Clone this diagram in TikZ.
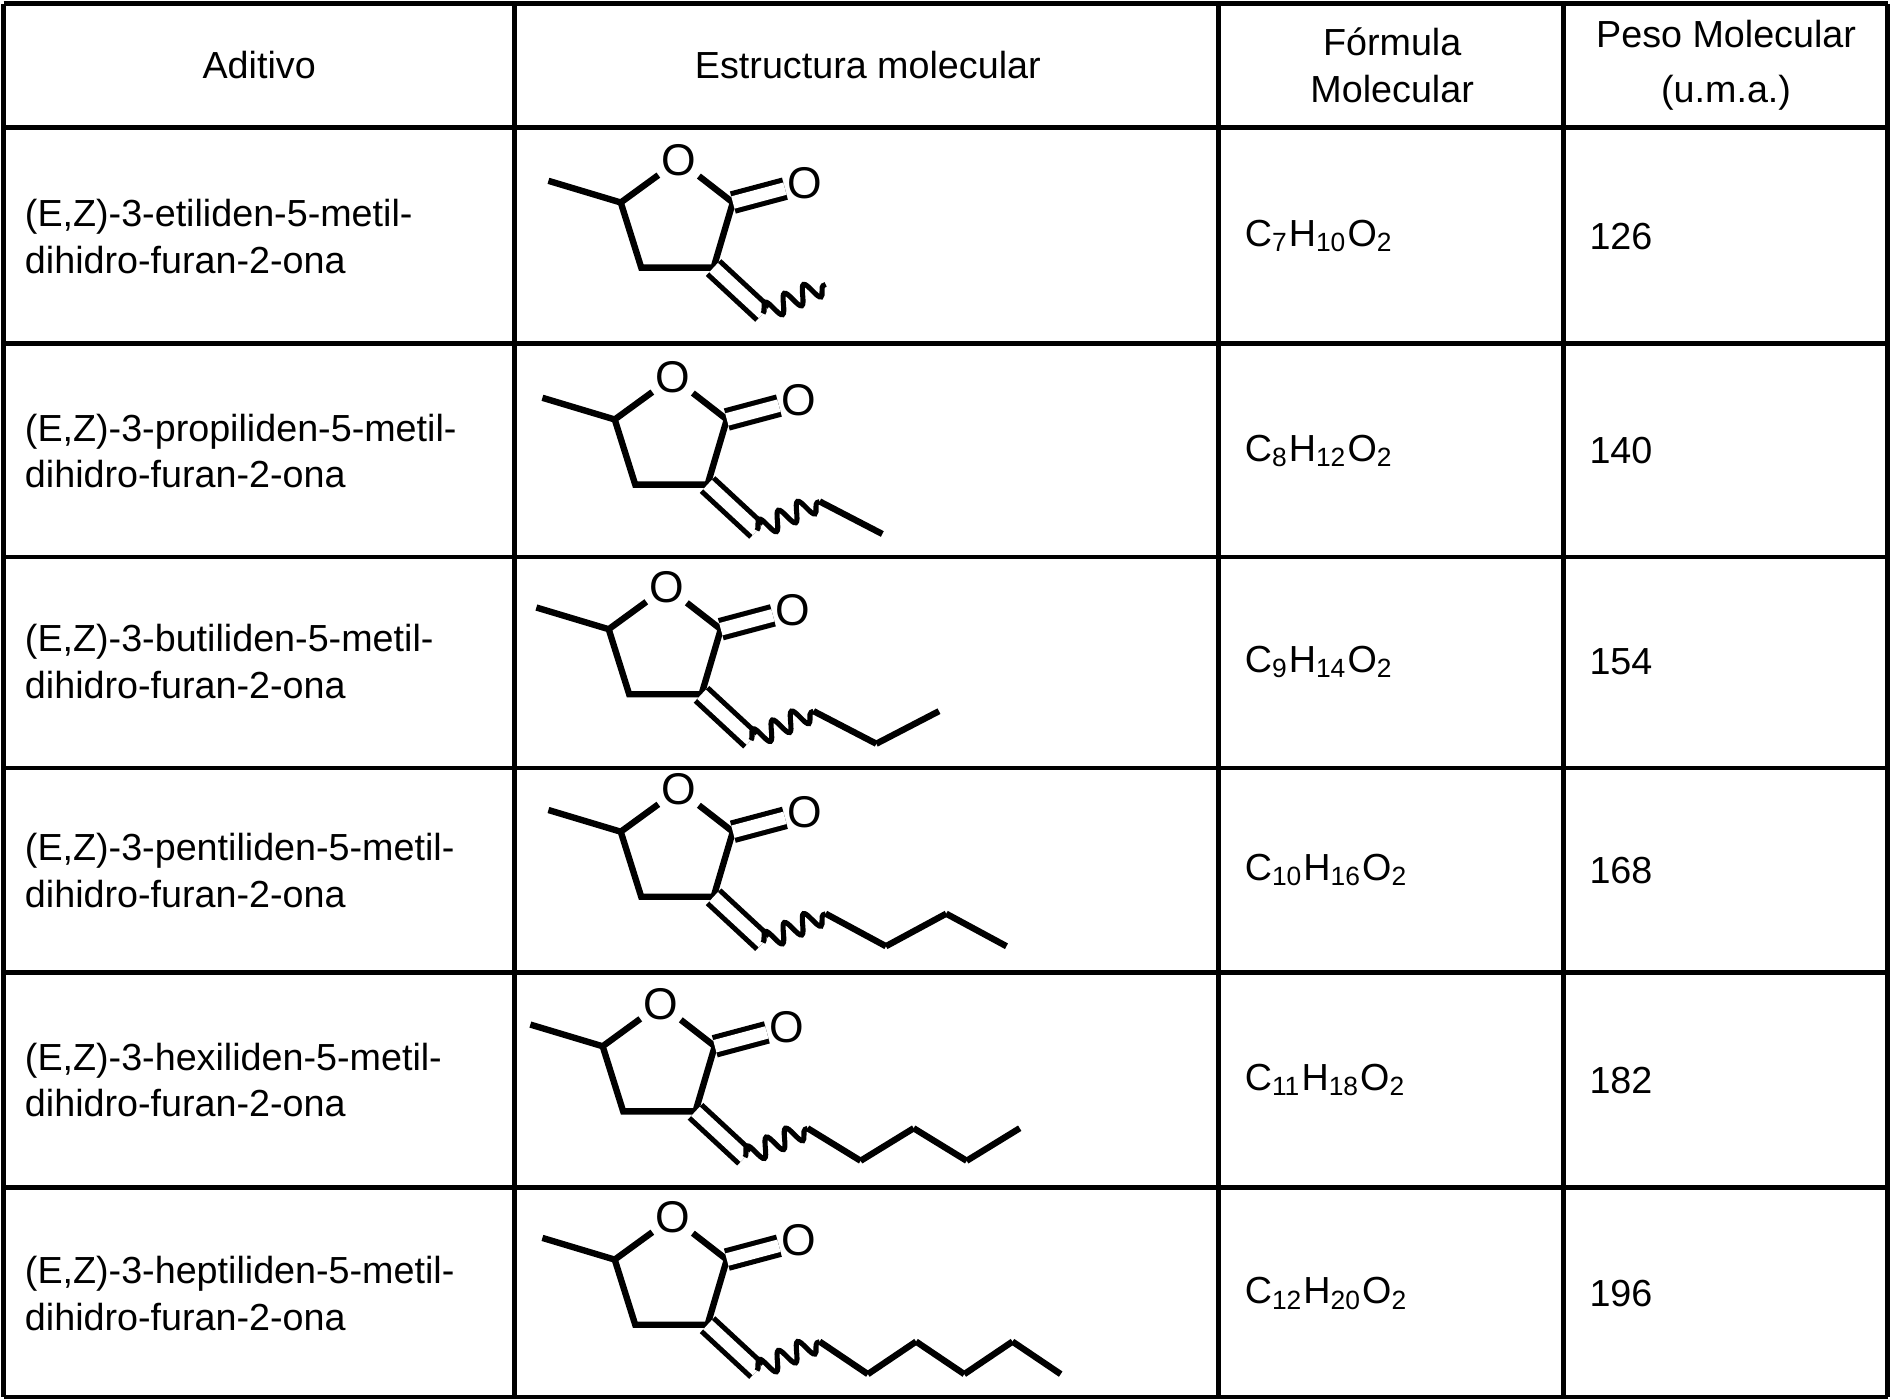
\documentclass[tikz,border=0pt]{standalone}
\usepackage{fontspec}
\setmainfont{Liberation Sans}
\usetikzlibrary{decorations.pathmorphing}
\tikzset{grid/.style={line width=1.1pt},
 bond/.style={line width=1.5pt},
 dbl/.style={line width=1.2pt,double,double distance=3pt},
 wav/.style={line width=1.2pt,decorate,decoration={snake,amplitude=2.2pt,segment length=5pt}},
 txt/.style={font=\fontsize{8.9}{11}\selectfont,inner sep=0pt},
 otx/.style={font=\fontsize{10.5}{11}\selectfont,inner sep=0.5pt,fill=white}}
\newcommand\molec[4]{%
\begin{scope}[shift={(#1,#2)}]
 \coordinate (c5) at (0,0); \coordinate (me) at (-60,-18);
 \coordinate (c2) at (93,0); \coordinate (c3) at (77,54); \coordinate (c4) at (17,54);
 \coordinate (ex) at (118,92); \coordinate (we) at (170,68);
 \node[otx] (ox) at (48,-35) {O};
 \node[otx] (oc) at (153,-16) {O};
 \draw[bond] (me) -- (c5) -- (ox) -- (c2) -- (c3) -- (c4) -- (c5);
 \draw[dbl] (c2) -- (oc);
 \draw[dbl] (c3) -- (ex);
 \draw[wav] (ex) -- (we);
 \ifnum#3>0
 \foreach \i in {1,...,#3}{
   \pgfmathsetmacro\xa{170+(\i-1)*#4}\pgfmathsetmacro\xb{170+\i*#4}
   \pgfmathsetmacro\ya{mod(\i,2)==1?68:95}\pgfmathsetmacro\yb{mod(\i,2)==1?95:68}
   \draw[bond] (\xa,\ya) -- (\xb,\yb);}
 \fi
\end{scope}}
\begin{document}
\begin{tikzpicture}[x=0.1mm,y=-0.1mm]
\useasboundingbox (0,0) rectangle (1568,1161);
\foreach \x in {3,427,1011,1297,1566} \draw[grid] (\x,3) -- (\x,1159);
\foreach \y in {3,106,285,462,637,807,985,1159} \draw[grid] (3,\y) -- (1566,\y);
\node[txt] (h1) at (215,54) {Aditivo};
\node[txt] (h2) at (720,54) {Estructura molecular};
\node[txt,align=center] (h3) at (1155,54) {Fórmula\\Molecular};
\node[txt,align=center] (h4) at (1432,54) {Peso Molecular\\[2pt](u.m.a.)};
\foreach \n/\yc/\f/\w in {etiliden/196/C\textsubscript{7}H\textsubscript{10}O\textsubscript{2}/126,
 propiliden/374/C\textsubscript{8}H\textsubscript{12}O\textsubscript{2}/140,
 butiliden/549/C\textsubscript{9}H\textsubscript{14}O\textsubscript{2}/154,
 pentiliden/722/C\textsubscript{10}H\textsubscript{16}O\textsubscript{2}/168,
 hexiliden/896/C\textsubscript{11}H\textsubscript{18}O\textsubscript{2}/182,
 heptiliden/1073/C\textsubscript{12}H\textsubscript{20}O\textsubscript{2}/196}{
 \node[txt,align=left,anchor=west] (a\n) at (20,\yc) {(E,Z)-3-\n-5-metil-\\dihidro-furan-2-ona};
 \node[txt,anchor=west] (f\n) at (1032,\yc) {\f};
 \node[txt,anchor=west] (w\n) at (1318,\yc) {\w};
}
\molec{515}{168}{0}{52}
\molec{510}{348}{1}{52}
\molec{505}{522}{2}{52}
\molec{515}{690}{3}{50}
\molec{500}{868}{4}{44}
\molec{510}{1045}{5}{40}
\end{tikzpicture}
\end{document}
